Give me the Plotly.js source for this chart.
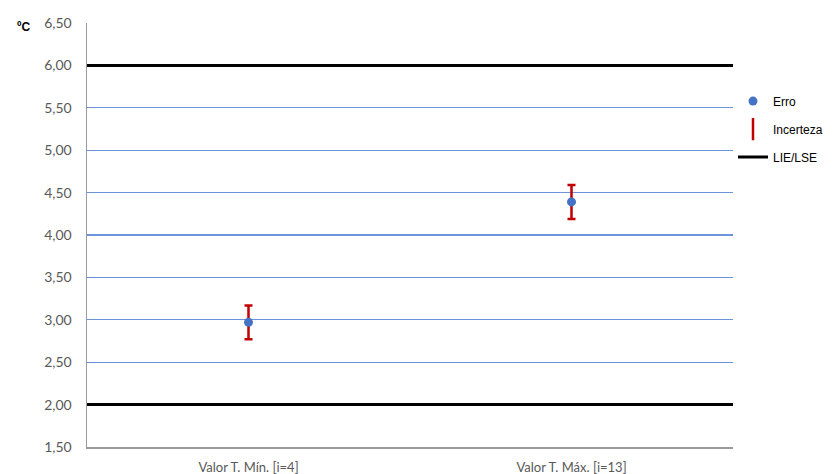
<!DOCTYPE html>
<html>
<head>
<meta charset="utf-8">
<script src="https://cdn.plot.ly/plotly-3.0.1.min.js"></script>
<style>html,body{margin:0;padding:0;background:#fff;}#chart{width:833px;height:474px;}</style>
</head>
<body>
<div id="chart"></div>
<script>
const categories = ["Valor T. Mín. [i=4]", "Valor T. Máx. [i=13]"];
const categoryPos = [0, 1];
const erro = [2.97, 4.39];
const incerteza = [0.2, 0.2];
const limitX = [-0.5, 1.5];
const lie = [2.0, 2.0];
const lse = [6.0, 6.0];
const yTicks = [1.5, 2.0, 2.5, 3.0, 3.5, 4.0, 4.5, 5.0, 5.5, 6.0, 6.5];

const traces = [
  {
    x: categoryPos, y: erro, type: "scatter", mode: "markers", name: "Erro",
    legendgroup: "a",
    marker: {color: "#4472C4", size: 9},
    error_y: {type: "data", array: incerteza, visible: true, color: "#C00000", thickness: 2.5, width: 4},
    showlegend: false
  },
  {
    x: [null], y: [null], type: "scatter", mode: "markers", name: "Erro",
    legendgroup: "a",
    marker: {color: "#4472C4", size: 9}
  },
  {
    x: [null], y: [null], type: "scatter", mode: "markers", name: "Incerteza",
    legendgroup: "b",
    marker: {symbol: "line-ns-open", color: "#C00000", size: 26, line: {color: "#C00000", width: 2.5}}
  },
  {
    x: limitX, y: lse, type: "scatter", mode: "lines", name: "LIE/LSE",
    legendgroup: "c",
    line: {color: "#000000", width: 3}
  },
  {
    x: limitX, y: lie, type: "scatter", mode: "lines", name: "LIE/LSE",
    legendgroup: "c",
    line: {color: "#000000", width: 3}, showlegend: false
  }
];

const layout = {
  width: 833, height: 474,
  margin: {l: 87, r: 100, t: 23, b: 27, autoexpand: false},
  paper_bgcolor: "#ffffff", plot_bgcolor: "#ffffff",
  separators: ",.",
  font: {family: "Lato, 'Open Sans', sans-serif", color: "#595959", size: 13},
  showlegend: true,
  legend: {
    x: 1.0, y: 0.85, xanchor: "left", yanchor: "top",
    font: {family: "'Liberation Sans', Arial, sans-serif", size: 12, color: "#000000"},
    tracegroupgap: 9, traceorder: "grouped", itemwidth: 30,
    bgcolor: "rgba(0,0,0,0)"
  },
  xaxis: {
    range: [-0.5, 1.5], tickmode: "array", tickvals: categoryPos, ticktext: categories,
    showgrid: false, zeroline: false, showline: true, linecolor: "#9a9a9a", linewidth: 1.5,
    ticks: "", ticklabelstandoff: 8, tickfont: {size: 13, color: "#595959"}, fixedrange: true
  },
  yaxis: {
    range: [1.5, 6.5], tickmode: "array", tickvals: yTicks, tickformat: ".2f",
    showgrid: true, gridcolor: "#6B94DC", gridwidth: 1.2,
    zeroline: false, showline: true, linecolor: "#9a9a9a", linewidth: 1.5,
    ticks: "", ticklabelstandoff: 11, tickfont: {size: 14, color: "#595959"}, fixedrange: true
  },
  annotations: [
    {text: "<b>ºC</b>", xref: "paper", yref: "paper", x: -0.085, y: 1.0, xanchor: "right", yanchor: "middle",
     showarrow: false, font: {size: 12, color: "#000000", family: "'Liberation Sans', Arial, sans-serif"}, yshift: -4}
  ]
};

Plotly.newPlot("chart", traces, layout, {displayModeBar: false, staticPlot: true});
</script>
</body>
</html>
